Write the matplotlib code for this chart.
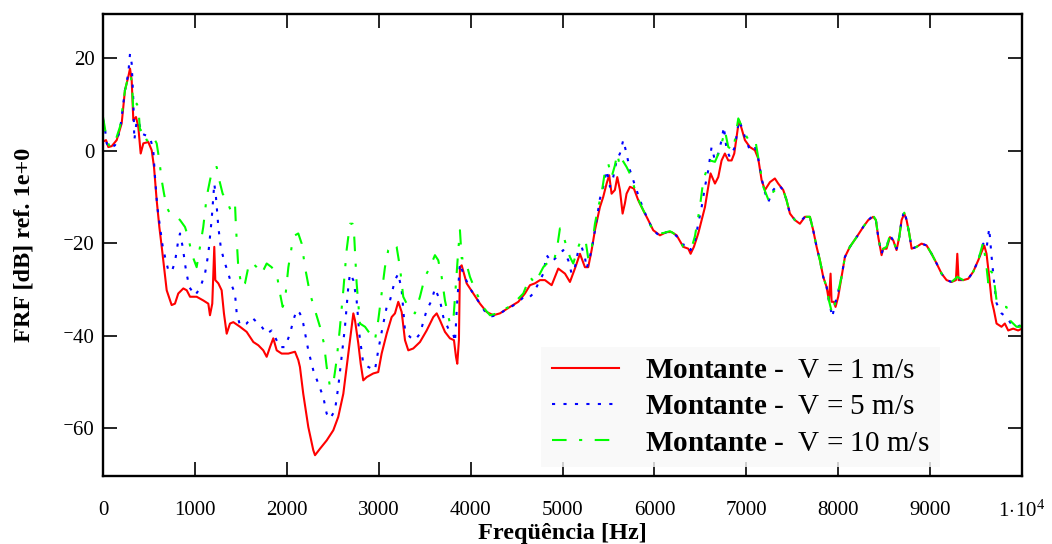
import matplotlib
matplotlib.use("Agg")
import matplotlib.pyplot as plt
from matplotlib.ticker import FuncFormatter

# ---------------------------------------------------------------- data
# V = 1 m/s
freq_v1 = [
    0, 33, 58, 95, 149, 203, 239, 275, 294, 312,
    330, 359, 384, 410, 439, 493, 530, 555, 584, 613,
    639, 664, 693, 747, 783, 819, 874, 911, 947, 1019,
    1091, 1146, 1164, 1189, 1211, 1222, 1255, 1291, 1316, 1346,
    1382, 1418, 1491, 1563, 1636, 1690, 1744, 1781, 1817, 1853,
    1890, 1944, 2017, 2089, 2125, 2143, 2179, 2234, 2288, 2307,
    2361, 2434, 2506, 2560, 2615, 2651, 2687, 2724, 2742, 2778,
    2804, 2832, 2869, 2941, 2995, 3032, 3087, 3141, 3177, 3213,
    3250, 3286, 3322, 3376, 3449, 3522, 3594, 3631, 3667, 3721,
    3775, 3819, 3841, 3855, 3873, 3884, 3903, 3957, 4029, 4102,
    4175, 4247, 4319, 4428, 4519, 4591, 4646, 4700, 4755, 4809,
    4882, 4954, 5027, 5081, 5135, 5190, 5244, 5280, 5317, 5353,
    5407, 5443, 5480, 5508, 5534, 5570, 5596, 5625, 5654, 5679,
    5697, 5734, 5777, 5824, 5879, 5933, 5987, 6060, 6133, 6187,
    6242, 6314, 6369, 6394, 6430, 6477, 6514, 6550, 6586, 6611,
    6659, 6695, 6731, 6767, 6804, 6840, 6869, 6895, 6920, 6949,
    6985, 7039, 7094, 7130, 7167, 7203, 7257, 7311, 7347, 7402,
    7438, 7475, 7529, 7583, 7638, 7692, 7728, 7765, 7801, 7837,
    7874, 7899, 7917, 7928, 7953, 7971, 8000, 8036, 8073, 8127,
    8200, 8272, 8327, 8381, 8410, 8436, 8472, 8490, 8526, 8563,
    8599, 8635, 8664, 8690, 8719, 8744, 8773, 8799, 8853, 8907,
    8962, 9016, 9071, 9125, 9179, 9234, 9281, 9296, 9310, 9361,
    9415, 9469, 9524, 9560, 9589, 9614, 9643, 9669, 9694, 9723,
    9777, 9813, 9850, 9904, 9958, 10000,
]
frf_v1 = [
    2.0, 2.3, 0.8, 1.0, 2.3, 5.9, 13.1, 16.0, 17.8, 15.3,
    6.6, 7.3, 5.2, -0.6, 1.6, 1.9, 0.1, -3.5, -10.7, -16.5,
    -20.8, -25.2, -30.2, -33.4, -33.1, -30.9, -29.8, -30.2, -31.6, -31.6,
    -32.4, -33.1, -35.6, -33.1, -20.8, -28.0, -28.7, -30.2, -35.2, -39.6,
    -37.4, -37.1, -38.1, -39.2, -41.4, -42.1, -43.2, -44.6, -42.5, -40.6,
    -43.2, -43.9, -43.9, -43.5, -45.3, -46.8, -52.6, -59.8, -64.8, -65.9,
    -64.5, -62.7, -60.5, -57.6, -52.6, -46.8, -41.0, -35.2, -36.7, -41.7,
    -46.1, -49.7, -49.0, -48.2, -47.9, -43.9, -39.6, -36.0, -35.2, -32.7,
    -34.9, -41.0, -43.2, -42.8, -41.4, -38.9, -36.0, -35.2, -36.7, -39.2,
    -40.6, -41.0, -44.6, -46.1, -41.0, -25.2, -24.8, -28.7, -30.9, -33.1,
    -34.9, -35.6, -35.2, -33.8, -32.7, -30.9, -29.1, -28.7, -28.0, -28.0,
    -29.1, -25.5, -26.6, -28.4, -25.5, -22.3, -25.2, -25.2, -21.5, -17.2,
    -12.2, -10.0, -7.1, -5.3, -9.3, -8.5, -5.7, -8.5, -13.6, -11.4,
    -9.3, -7.8, -8.2, -10.7, -12.9, -15.0, -17.2, -18.3, -17.6, -17.6,
    -18.3, -20.8, -21.2, -22.3, -20.8, -17.9, -15.0, -12.2, -7.8, -4.9,
    -7.1, -5.7, -2.1, -0.6, -2.1, -2.1, -0.6, 3.0, 6.6, 4.8,
    2.3, 0.8, 0.1, -1.7, -6.4, -8.5, -6.8, -6.0, -7.1, -8.5,
    -10.7, -13.6, -15.0, -15.8, -14.3, -14.3, -17.2, -20.8, -23.7, -27.3,
    -29.5, -32.4, -26.6, -32.7, -32.7, -33.8, -31.6, -27.3, -23.0, -20.8,
    -18.7, -16.5, -15.0, -14.3, -15.0, -18.7, -22.6, -21.2, -21.2, -18.7,
    -19.4, -21.5, -18.7, -15.0, -13.6, -15.0, -17.9, -21.2, -20.8, -20.1,
    -20.5, -22.3, -24.4, -26.6, -28.0, -28.4, -28.0, -22.3, -28.0, -28.0,
    -27.7, -26.2, -23.7, -21.9, -20.5, -22.3, -27.3, -32.4, -34.5, -37.4,
    -38.1, -37.4, -38.9, -38.5, -38.9, -38.5,
]

# V = 5 m/s
freq_v5 = [
    0, 20, 40, 76, 131, 185, 239, 275, 294, 312,
    330, 341, 367, 394, 421, 457, 511, 547, 566, 591,
    620, 650, 675, 711, 747, 783, 819, 838, 867, 903,
    939, 1001, 1055, 1110, 1146, 1182, 1211, 1229, 1255, 1281,
    1316, 1364, 1400, 1436, 1455, 1491, 1563, 1618, 1672, 1727,
    1781, 1835, 1871, 1926, 1980, 2035, 2071, 2107, 2143, 2179,
    2234, 2288, 2343, 2397, 2434, 2470, 2524, 2560, 2597, 2633,
    2669, 2687, 2724, 2760, 2789, 2832, 2887, 2959, 2995, 3043,
    3087, 3123, 3177, 3213, 3250, 3286, 3340, 3394, 3449, 3522,
    3576, 3612, 3667, 3703, 3757, 3811, 3830, 3855, 3884, 3920,
    3993, 4066, 4150, 4211, 4290, 4400, 4519, 4591, 4646, 4682,
    4773, 4791, 4827, 4882, 4936, 5008, 5063, 5099, 5135, 5172,
    5208, 5244, 5262, 5299, 5335, 5371, 5407, 5443, 5480, 5516,
    5552, 5589, 5625, 5661, 5697, 5734, 5770, 5806, 5843, 5915,
    5987, 6060, 6133, 6187, 6242, 6314, 6350, 6394, 6441, 6477,
    6514, 6550, 6586, 6622, 6659, 6695, 6731, 6756, 6786, 6822,
    6876, 6920, 6949, 6985, 7039, 7094, 7130, 7167, 7203, 7239,
    7293, 7347, 7402, 7438, 7475, 7529, 7583, 7638, 7692, 7728,
    7765, 7801, 7837, 7874, 7899, 7935, 7971, 8000, 8036, 8073,
    8127, 8200, 8272, 8327, 8381, 8410, 8436, 8472, 8490, 8526,
    8563, 8599, 8635, 8664, 8690, 8719, 8744, 8773, 8799, 8853,
    8907, 8962, 9016, 9071, 9125, 9179, 9234, 9296, 9361, 9415,
    9469, 9524, 9578, 9614, 9643, 9669, 9694, 9723, 9777, 9831,
    9904, 9958, 10000,
]
frf_v5 = [
    6.8, 5.0, 1.6, 0.5, 1.2, 4.4, 13.1, 16.7, 21.0, 18.9,
    10.9, 2.3, 6.6, 5.9, 3.7, 3.4, 3.0, 0.1, -5.7, -12.2,
    -16.5, -20.8, -23.0, -25.9, -26.2, -24.1, -19.4, -17.9, -20.8, -25.9,
    -29.5, -31.3, -29.8, -26.6, -22.3, -15.0, -7.1, -10.0, -16.5, -20.8,
    -23.7, -26.6, -29.1, -30.9, -35.2, -37.8, -37.4, -36.0, -37.1, -38.1,
    -39.6, -38.9, -40.3, -42.5, -42.5, -39.6, -36.7, -34.5, -35.2, -37.4,
    -43.2, -47.5, -50.4, -53.3, -56.9, -58.0, -56.2, -51.1, -44.6, -38.1,
    -29.5, -26.6, -28.0, -32.4, -39.6, -46.1, -46.8, -47.5, -43.2, -38.1,
    -33.8, -32.4, -28.0, -26.6, -30.2, -38.9, -40.3, -41.0, -39.6, -34.5,
    -32.4, -29.8, -32.4, -36.0, -38.5, -39.6, -41.4, -32.4, -24.4, -26.6,
    -29.8, -32.0, -34.6, -35.9, -35.6, -34.2, -32.9, -31.3, -31.6, -30.9,
    -27.3, -26.6, -22.6, -24.1, -23.0, -21.5, -23.7, -26.6, -25.2, -21.5,
    -20.8, -23.0, -25.5, -23.0, -19.4, -15.0, -10.4, -7.8, -4.2, -7.8,
    -5.7, -2.1, -0.6, 2.3, -0.6, -4.2, -6.4, -8.5, -10.7, -14.3,
    -17.2, -18.5, -17.6, -17.6, -18.5, -20.4, -20.1, -21.5, -19.5, -15.8,
    -12.2, -7.8, -4.2, 0.8, -2.1, -0.6, 2.3, 5.2, 0.1, -1.4,
    0.8, 6.6, 5.2, 3.0, 0.1, 0.8, -1.7, -6.0, -9.0, -11.1,
    -8.5, -7.3, -8.5, -10.7, -13.6, -15.0, -15.4, -14.3, -14.3, -17.2,
    -20.8, -23.7, -27.3, -29.5, -32.4, -36.0, -32.7, -30.5, -27.3, -23.0,
    -20.8, -18.7, -16.5, -15.0, -14.0, -15.0, -18.7, -22.3, -21.2, -20.8,
    -18.3, -19.4, -21.2, -18.7, -15.0, -13.0, -15.0, -17.9, -21.2, -20.8,
    -20.1, -20.5, -22.3, -24.4, -26.6, -28.0, -28.4, -27.7, -28.0, -27.7,
    -26.2, -23.7, -20.1, -21.2, -16.8, -22.9, -28.0, -33.0, -35.2, -36.0,
    -38.1, -38.1, -37.4,
]

# V = 10 m/s
freq_v10 = [
    0, 20, 40, 76, 131, 185, 239, 275, 301, 319,
    330, 367, 384, 403, 439, 475, 511, 547, 584, 613,
    639, 664, 693, 729, 783, 838, 892, 928, 965, 1019,
    1055, 1091, 1128, 1164, 1193, 1237, 1266, 1302, 1346, 1389,
    1436, 1447, 1472, 1509, 1545, 1581, 1618, 1672, 1727, 1781,
    1835, 1890, 1926, 1955, 1980, 2017, 2053, 2089, 2125, 2162,
    2198, 2252, 2307, 2361, 2404, 2434, 2470, 2506, 2542, 2579,
    2615, 2651, 2687, 2716, 2734, 2760, 2796, 2851, 2905, 2959,
    2995, 3032, 3068, 3104, 3159, 3195, 3231, 3267, 3322, 3394,
    3449, 3503, 3558, 3612, 3648, 3685, 3721, 3775, 3811, 3841,
    3866, 3884, 3903, 3939, 3993, 4066, 4150, 4211, 4290, 4338,
    4400, 4480, 4573, 4646, 4700, 4791, 4845, 4900, 4943, 4972,
    5008, 5045, 5081, 5117, 5172, 5208, 5256, 5280, 5317, 5353,
    5389, 5425, 5461, 5498, 5534, 5570, 5596, 5625, 5654, 5697,
    5752, 5788, 5843, 5897, 5960, 6030, 6100, 6169, 6242, 6314,
    6369, 6405, 6441, 6495, 6532, 6568, 6604, 6659, 6713, 6767,
    6804, 6858, 6913, 6985, 7057, 7105, 7141, 7185, 7250, 7293,
    7330, 7402, 7438, 7475, 7529, 7583, 7638, 7692, 7728, 7765,
    7801, 7837, 7874, 7899, 7935, 7971, 8000, 8036, 8073, 8127,
    8200, 8272, 8327, 8381, 8410, 8436, 8472, 8490, 8526, 8563,
    8599, 8635, 8664, 8690, 8719, 8744, 8773, 8799, 8853, 8907,
    8962, 9016, 9071, 9125, 9179, 9234, 9296, 9361, 9415, 9469,
    9524, 9578, 9614, 9632, 9650, 9687, 9723, 9777, 9831, 9868,
    9940, 9980, 10000,
]
frf_v10 = [
    7.3, 5.0, 2.3, 0.8, 1.9, 5.2, 13.1, 16.0, 16.7, 13.1,
    8.4, 10.2, 9.4, 4.4, 4.8, 2.3, 1.9, 3.0, 1.6, -2.1,
    -6.4, -9.3, -12.2, -13.6, -14.0, -15.0, -16.5, -18.7, -22.3, -25.2,
    -20.8, -16.5, -10.0, -6.4, -3.9, -3.5, -6.4, -9.3, -10.7, -12.9,
    -11.4, -16.5, -25.2, -29.5, -28.7, -25.2, -24.1, -25.2, -26.6, -24.4,
    -25.2, -26.6, -30.9, -33.8, -32.4, -25.2, -20.8, -18.3, -17.9, -20.1,
    -25.2, -30.9, -34.5, -38.1, -41.7, -46.8, -51.1, -50.4, -45.3, -38.1,
    -30.2, -21.5, -15.8, -15.8, -18.7, -28.7, -37.4, -38.1, -39.6, -41.0,
    -36.7, -30.9, -25.2, -21.5, -20.1, -20.8, -25.2, -31.6, -33.8, -35.2,
    -31.6, -27.3, -25.2, -22.6, -23.7, -27.3, -32.4, -37.4, -37.1, -28.7,
    -21.5, -17.2, -23.3, -23.3, -27.3, -30.9, -34.2, -35.6, -35.2, -34.2,
    -34.0, -32.8, -30.9, -27.3, -28.7, -25.2, -24.1, -24.4, -20.8, -16.8,
    -18.3, -20.8, -23.0, -24.4, -20.8, -19.0, -20.1, -23.3, -21.2, -15.8,
    -12.2, -9.3, -4.6, -2.8, -5.7, -3.2, -0.6, -3.5, -2.1, -3.5,
    -5.7, -8.5, -11.4, -13.6, -16.3, -17.9, -17.8, -17.4, -18.3, -20.8,
    -21.0, -21.0, -18.5, -12.2, -6.4, -4.2, -2.1, -2.4, 0.1, 4.4,
    0.8, 0.1, 7.0, 3.7, 1.2, 1.5, -2.8, -7.8, -11.1, -8.9,
    -8.2, -8.5, -10.7, -13.6, -15.0, -15.4, -14.3, -14.3, -17.2, -20.8,
    -23.7, -27.3, -29.5, -32.4, -35.3, -32.7, -30.5, -27.3, -23.0, -20.8,
    -18.7, -16.5, -15.0, -14.0, -15.0, -18.7, -22.3, -21.2, -20.8, -18.3,
    -19.4, -21.5, -18.7, -15.0, -13.4, -15.0, -17.9, -21.2, -20.8, -20.1,
    -20.5, -22.3, -24.4, -26.6, -28.0, -28.4, -27.3, -28.0, -27.7, -26.2,
    -23.7, -19.8, -25.2, -28.5, -25.9, -26.6, -32.4, -33.8, -33.8, -36.7,
    -38.1, -38.1, -36.0,
]

series_labels = [
    r"$\mathbf{Montante}$ -  V = 1 m/s",
    r"$\mathbf{Montante}$ -  V = 5 m/s",
    r"$\mathbf{Montante}$ -  V = 10 m/s",
]

x_ticks = [0, 1000, 2000, 3000, 4000, 5000, 6000, 7000, 8000, 9000, 10000]
y_ticks = [-60, -40, -20, 0, 20]

# ---------------------------------------------------------------- style
plt.rcParams["font.family"] = ["Liberation Serif", "DejaVu Serif"]
plt.rcParams["mathtext.fontset"] = "custom"
plt.rcParams["mathtext.rm"] = "Liberation Serif"
plt.rcParams["mathtext.bf"] = "Liberation Serif:bold"
plt.rcParams["mathtext.it"] = "Liberation Serif:italic"

fig = plt.figure(figsize=(10.52, 5.44), dpi=100)
ax = fig.add_axes([103 / 1052, 1 - 476 / 544, 919 / 1052, 462 / 544])

ax.plot(freq_v1, frf_v1, color="#ff0000", lw=1.5, ls="-", label=series_labels[0])
ax.plot(freq_v5, frf_v5, color="#0000ff", lw=1.5, ls=(0, (1.5, 4.0)),
        label=series_labels[1])
ax.plot(freq_v10, frf_v10, color="#00ff00", lw=1.5, ls=(0, (7, 6, 1.5, 6)),
        label=series_labels[2])

ax.set_xlim(0, 10000)
ax.set_ylim(-70.4, 29.6)
ax.set_xticks(x_ticks)
ax.set_yticks(y_ticks)


def fmt_x(v, pos):
    if v >= 10000:
        return r"$1\!\cdot\!10^{4}$"
    return f"{int(v)}"


def fmt_y(v, pos):
    v = int(round(v))
    return f"\u207b{abs(v)}" if v < 0 else f"{v}"


ax.xaxis.set_major_formatter(FuncFormatter(fmt_x))
ax.yaxis.set_major_formatter(FuncFormatter(fmt_y))

ax.tick_params(axis="both", which="major", direction="in", length=10,
               width=1.2, top=True, right=True, labelsize=15, colors="black")
ax.tick_params(axis="x", pad=18)
ax.tick_params(axis="y", pad=6)
for s in ax.spines.values():
    s.set_linewidth(1.7)

ax.set_xlabel("Freqüência [Hz]", fontsize=17.5, fontweight="bold")
ax.set_ylabel("FRF [dB] ref. 1e+0", fontsize=17.5, fontweight="bold")
ax.xaxis.set_label_coords(0.5, -0.102)
ax.yaxis.set_label_coords(-0.074, 0.5)

leg = ax.legend(loc="lower left", bbox_to_anchor=(0.477, 0.020), fontsize=21,
                frameon=True, fancybox=False, handlelength=2.3,
                handletextpad=0.9, labelspacing=0.34, borderpad=0.35,
                borderaxespad=0.0)
leg.get_frame().set_facecolor("#f8f8f8")
leg.get_frame().set_edgecolor("none")

fig.savefig("out.png", dpi=100)
